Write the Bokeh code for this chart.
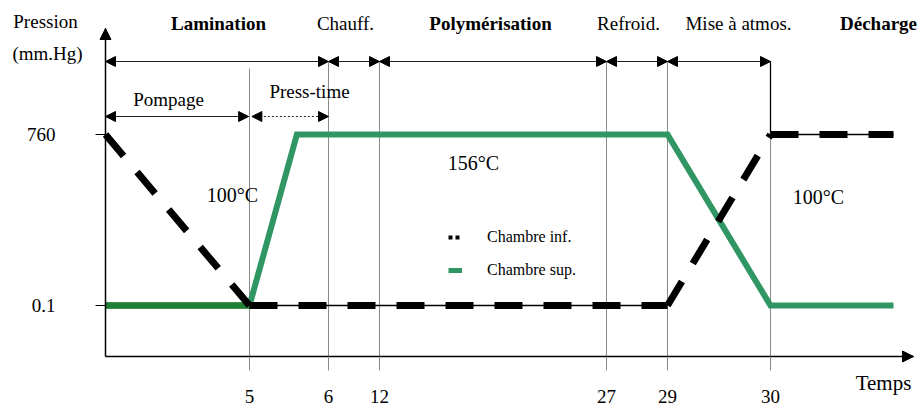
import numpy as np
from bokeh.plotting import figure
from bokeh.models import (Range1d, FixedTicker, Arrow, NormalHead, Label,
                          Legend, LegendItem)
from bokeh.embed import file_html
from bokeh.resources import INLINE

# ---------------- data ----------------
time_ticks = [5, 6, 12, 27, 29, 30]
time_tick_labels = ["5", "6", "12", "27", "29", "30"]
pressure_levels = [0.1, 760]
pressure_labels = ["0.1", "760"]

# Chambre sup. (green)
sup_time = [0, 5, 5.6, 29, 30, 32]
sup_pressure = [0.1, 0.1, 760, 760, 0.1, 0.1]
# Chambre inf. (black dashed)
inf_time = [0, 5, 29, 30, 32]
inf_pressure = [760, 0.1, 0.1, 760, 760]

phase_names = ["Lamination", "Chauff.", "Polymérisation", "Refroid.", "Mise à atmos.", "Décharge"]
phase_bold = [True, False, True, False, False, True]
phase_bounds = [0, 6, 12, 27, 29, 30]
sub_phase_names = ["Pompage", "Press-time"]
sub_phase_bounds = [0, 5, 6]
temp_labels = ["100°C", "156°C", "100°C"]

# ---------------- schematic scale (diagram not to scale) ----------------
SCHEME_T = [0, 5, 6, 12, 27, 29, 30, 32]
SCHEME_X = [0, 144, 223, 274, 501, 562, 665, 788]
LEVEL_Y = {0.1: 51, 760: 222}

def tx(t):
    return [float(v) for v in np.interp(t, SCHEME_T, SCHEME_X)]

def ly(p):
    return [LEVEL_Y[v] for v in p]

FONT = "Liberation Serif"
GREEN = "#2f9664"
GREEN_DARK = "#1f7f35"
GREY = "#8a8a8a"

p = figure(width=921, height=407, output_backend="svg", toolbar_location=None,
           x_range=Range1d(-105, 816), y_range=Range1d(-51, 356),
           min_border=0, title=None)
p.grid.visible = False
p.outline_line_color = None

# axes (drawn inside the frame at the origin)
xa = p.xaxis[0]
xa.fixed_location = 0
xa.bounds = (0, 808)
xa.ticker = FixedTicker(ticks=tx(time_ticks))
xa.major_label_overrides = {v: l for v, l in zip(tx(time_ticks), time_tick_labels)}
xa.axis_line_color = "black"
xa.axis_line_width = 1.5
xa.major_tick_in = 0
xa.major_tick_out = 14
xa.major_tick_line_color = GREY
xa.minor_tick_line_color = None
xa.major_label_standoff = 19
xa.major_label_text_font = FONT
xa.major_label_text_font_size = "19px"
xa.major_label_text_color = "black"

ya = p.yaxis[0]
ya.fixed_location = 0
ya.bounds = (0, 328)
ya.ticker = FixedTicker(ticks=ly(pressure_levels))
ya.major_label_overrides = {LEVEL_Y[v]: l for v, l in zip(pressure_levels, pressure_labels)}
ya.axis_line_color = "black"
ya.axis_line_width = 1.5
ya.major_tick_in = 0
ya.major_tick_out = 10
ya.major_tick_line_color = "black"
ya.minor_tick_line_color = None
ya.major_label_standoff = 40
ya.major_label_text_font = FONT
ya.major_label_text_font_size = "19px"
ya.major_label_text_color = "black"
ya.major_label_text_baseline = "top"

# axis arrowheads
p.add_layout(Arrow(x_start=780, y_start=0, x_end=808, y_end=0, line_alpha=0,
                   start=None, end=NormalHead(size=11, fill_color="black", line_color="black")))
p.add_layout(Arrow(x_start=0, y_start=300, x_end=0, y_end=328, line_alpha=0,
                   start=None, end=NormalHead(size=11, fill_color="black", line_color="black")))

# vertical guide lines at tick times
TOP_DIM = 295
SUB_DIM = 240
v_top = [288 if t == 5 else TOP_DIM for t in time_ticks]
p.segment(x0=tx(time_ticks), y0=[0] * len(time_ticks), x1=tx(time_ticks), y1=v_top,
          line_color=GREY, line_width=1)
# black drop at end of "Mise à atmos."
p.segment(x0=tx([30]), y0=[TOP_DIM], x1=tx([30]), y1=ly([760]), line_color="black", line_width=1.3)

# phase dimension arrows
def dim_arrow(t0, t1, y, dash="solid"):
    x0, x1 = tx([t0, t1])
    p.add_layout(Arrow(x_start=x0, y_start=y, x_end=x1, y_end=y,
                       line_color="#222222", line_width=1, line_dash=dash,
                       start=NormalHead(size=10, fill_color="black", line_color="black"),
                       end=NormalHead(size=10, fill_color="black", line_color="black")))

for a, b in zip(phase_bounds[:-1], phase_bounds[1:]):
    dim_arrow(a, b, TOP_DIM)
dim_arrow(sub_phase_bounds[0], sub_phase_bounds[1] - 0.03, SUB_DIM)
dim_arrow(sub_phase_bounds[1] + 0.03, sub_phase_bounds[2], SUB_DIM, dash="2 2")

# Chambre sup. (green)
p.line(tx(sup_time), ly(sup_pressure), line_color=GREEN, line_width=6, line_join="miter")
p.line(tx(sup_time[:2]), ly(sup_pressure[:2]), line_color=GREEN_DARK, line_width=6.5)

# Chambre inf. (black): thin base line on flat parts + thick dashes per segment
ix = tx(inf_time)
iy = ly(inf_pressure)
flat_x = [[ix[i], ix[i + 1]] for i in range(len(ix) - 1) if iy[i] == iy[i + 1]]
flat_y = [[iy[i], iy[i + 1]] for i in range(len(ix) - 1) if iy[i] == iy[i + 1]]
p.multi_line(flat_x, flat_y, line_color="black", line_width=1.5)
p.multi_line([[ix[i], ix[i + 1]] for i in range(len(ix) - 1)],
             [[iy[i], iy[i + 1]] for i in range(len(ix) - 1)],
             line_color="black", line_width=7, line_dash="28 21")

# legend (sample glyphs only; single point draws nothing on the plot)
leg_inf = p.line([0], [0], line_color="black", line_width=4, line_dash="4 3")
leg_sup = p.line([0], [0], line_color=GREEN, line_width=5)
legend = Legend(items=[LegendItem(label="Chambre inf.", renderers=[leg_inf]),
                       LegendItem(label="Chambre sup.", renderers=[leg_sup])],
                location=(448, 127), glyph_width=14, glyph_height=20, label_height=20,
                spacing=13, padding=0, margin=0, label_standoff=25,
                background_fill_alpha=0, border_line_alpha=0,
                label_text_font=FONT, label_text_font_size="16px", label_text_color="black")
p.add_layout(legend)

# ---------------- texts ----------------
def txt(text, x, y, size="19px", bold=False, align="center"):
    p.add_layout(Label(x=x, y=y, text=text, text_font=FONT, text_font_size=size,
                       text_font_style="bold" if bold else "normal",
                       text_align=align, text_baseline="middle", text_color="black"))

# layout positions (x from y-axis, y from x-axis)
phase_label_x = [113, 240, 385, 523, 633, 773]
for name, b, x in zip(phase_names, phase_bold, phase_label_x):
    txt(name, x, 333, bold=b)

sub_label_xy = [(63, 257), (204, 265)]
for name, (x, y) in zip(sub_phase_names, sub_label_xy):
    txt(name, x, y)

temp_xy = [(127, 162), (368, 194), (713, 160)]
for name, (x, y) in zip(temp_labels, temp_xy):
    txt(name, x, y, size="20px")

txt("Pression", -60, 335)
txt("(mm.Hg)", -58, 303)
txt("Temps", 778, -26, size="21px")

open("out.html", "w").write(file_html(p, INLINE))
